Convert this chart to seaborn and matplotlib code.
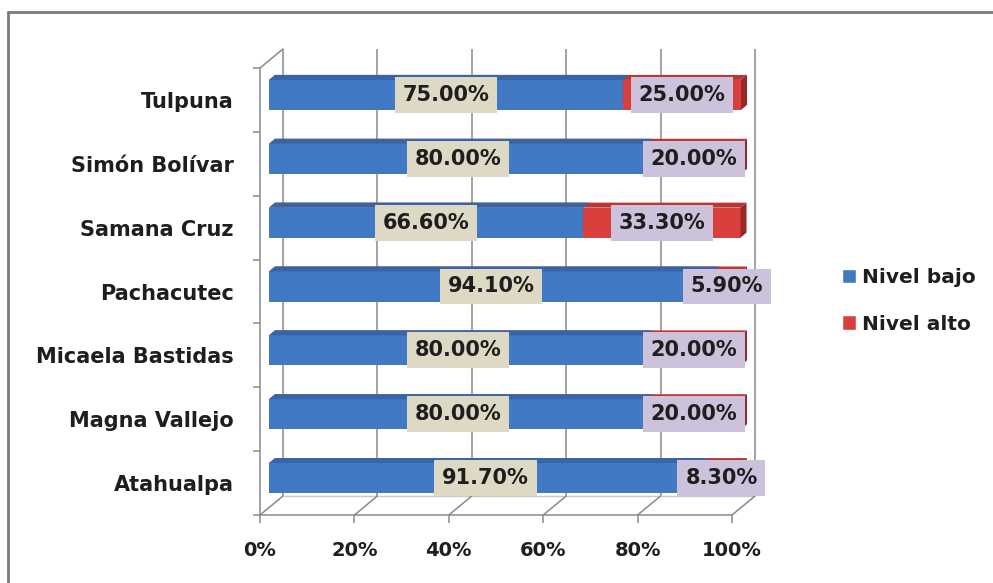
import numpy as np
import pandas as pd
import seaborn as sns
import matplotlib
matplotlib.use("Agg")
import matplotlib.pyplot as plt
from matplotlib.transforms import ScaledTranslation, IdentityTransform
from matplotlib.patches import Polygon, Patch
from matplotlib.lines import Line2D

# ---- data ----
categories = ["Tulpuna", "Simón Bolívar", "Samana Cruz", "Pachacutec",
              "Micaela Bastidas", "Magna Vallejo", "Atahualpa"]
nivel_bajo = [75.00, 80.00, 66.60, 94.10, 80.00, 80.00, 91.70]
nivel_alto = [25.00, 20.00, 33.30, 5.90, 20.00, 20.00, 8.30]
series_names = ["Nivel bajo", "Nivel alto"]
x_ticks = [0, 20, 40, 60, 80, 100]
x_tick_labels = ["0%", "20%", "40%", "60%", "80%", "100%"]

# ---- style ----
BLUE = "#4179C4"
BLUE_TOP = "#3566A8"
RED = "#D9403D"
RED_TOP = "#B93836"
RED_SIDE = "#962828"
BEIGE = "#DDD9C4"
LAVENDER = "#CDC2DC"
GRID = "#8A8A8A"
TXT = "#1E1E1E"

sns.set_theme(style="white")
plt.rcParams["font.family"] = ["DejaVu Sans"]
plt.rcParams["font.weight"] = "bold"
plt.rcParams["text.color"] = TXT

W, H = 993, 583
fig = plt.figure(figsize=(W / 100, H / 100), dpi=100)
ax = fig.add_axes([260 / W, (H - 515) / H, 472 / W, 447 / H])

df = pd.DataFrame({"Institución": categories,
                   "Nivel bajo": nivel_bajo,
                   "Nivel alto": nivel_alto})
df["total"] = df["Nivel bajo"] + df["Nivel alto"]

sns.barplot(data=df, y="Institución", x="total", order=categories,
            color=RED, saturation=1, width=0.47, linewidth=0, ax=ax)
n_red = len(ax.patches)
sns.barplot(data=df, y="Institución", x="Nivel bajo", order=categories,
            color=BLUE, saturation=1, width=0.47, linewidth=0, ax=ax)

ax.set_xlim(0, 100)
ax.set_ylim(6.5, -0.5)
ax.set_xlabel("")
ax.set_ylabel("")


def off(dx, dy):
    return ScaledTranslation(dx / fig.dpi, dy / fig.dpi, fig.dpi_scale_trans)


bar_off = off(9, 5)
back_off = off(23, 19)
T_bar = ax.transData + bar_off
T_back = ax.transData + back_off

# 3D bars
DX, DY = 6, 5
patches = list(ax.patches)
for i, p in enumerate(patches):
    is_red = i < n_red
    p.set_transform(T_bar)
    p.set_clip_on(False)
    p.set_zorder(2 if is_red else 3)
    x, y, w, h = p.get_x(), p.get_y(), p.get_width(), p.get_height()
    tl = T_bar.transform((x, y))
    tr = T_bar.transform((x + w, y))
    br = T_bar.transform((x + w, y + h))
    d = np.array([DX, DY])
    top = Polygon([tl, tr, tr + d, tl + d], closed=True,
                  facecolor=RED_TOP if is_red else BLUE_TOP, edgecolor="none",
                  transform=IdentityTransform(), clip_on=False,
                  zorder=2.1 if is_red else 3.1)
    ax.add_patch(top)
    if is_red:
        side = Polygon([tr, br, br + d, tr + d], closed=True,
                       facecolor=RED_SIDE, edgecolor="none",
                       transform=IdentityTransform(), clip_on=False, zorder=2.1)
        ax.add_patch(side)

# back wall gridlines & floor
ax.vlines(x_ticks, -0.5, 6.5, colors=GRID, linewidth=1.1,
          transform=T_back, zorder=0.5, clip_on=False)
ax.hlines(6.5, 0, 100, colors="#C8C8C8", linewidth=1.0,
          transform=T_back, zorder=0.5, clip_on=False)
# depth diagonals
for xv in x_ticks:
    a = ax.transData.transform((xv, 6.5))
    b = T_back.transform((xv, 6.5))
    ax.add_line(Line2D([a[0], b[0]], [a[1], b[1]], color=GRID, lw=1.1,
                       transform=IdentityTransform(), clip_on=False, zorder=0.5))
a = ax.transData.transform((0, -0.5))
b = T_back.transform((0, -0.5))
ax.add_line(Line2D([a[0], b[0]], [a[1], b[1]], color=GRID, lw=1.1,
                   transform=IdentityTransform(), clip_on=False, zorder=0.5))

# front axes
for s in ["top", "right"]:
    ax.spines[s].set_visible(False)
for s in ["left", "bottom"]:
    ax.spines[s].set_color(GRID)
    ax.spines[s].set_linewidth(1.1)

ax.set_xticks(x_ticks)
ax.set_xticklabels(x_tick_labels)
ax.set_yticks(range(len(categories)))
ax.set_yticklabels(categories)
ax.set_yticks(np.arange(-0.5, len(categories), 1.0), minor=True)
ax.tick_params(axis="y", which="major", length=0, pad=19, labelsize=15,
               labelcolor=TXT)
ax.tick_params(axis="y", which="minor", length=5, width=1.1, color=GRID,
               direction="out", left=True)
ax.tick_params(axis="x", which="major", length=6, width=1.1, color=GRID,
               direction="out", pad=13, labelsize=14, labelcolor=TXT,
               bottom=True)
for lab in ax.get_xticklabels() + ax.get_yticklabels():
    lab.set_fontweight("bold")

# data labels
for i in range(len(categories)):
    b, a_ = nivel_bajo[i], nivel_alto[i]
    ax.text(b / 2, i, f"{b:.2f}%", transform=T_bar, ha="center", va="center",
            fontsize=15, fontweight="bold", color=TXT, zorder=5, clip_on=False,
            bbox=dict(boxstyle="square,pad=0.38", fc=BEIGE, ec="none"))
    ax.text(b + a_ / 2, i, f"{a_:.2f}%", transform=T_bar, ha="center",
            va="center", fontsize=15, fontweight="bold", color=TXT, zorder=5,
            clip_on=False,
            bbox=dict(boxstyle="square,pad=0.38", fc=LAVENDER, ec="none"))

# legend
handles = [Patch(facecolor=BLUE), Patch(facecolor=RED)]
fig.legend(handles, series_names, loc="center left",
           bbox_to_anchor=(842 / W, 1 - 301 / H), frameon=False,
           handlelength=0.7, handleheight=0.7, handletextpad=0.3,
           labelspacing=1.35, borderpad=0, borderaxespad=0,
           prop=dict(weight="bold", size=14.5))

# outer frame
fig.add_artist(Line2D([8 / W, 1], [1 - 12 / H, 1 - 12 / H],
                      transform=fig.transFigure, color="#7A7A7A", lw=2))
fig.add_artist(Line2D([8 / W, 8 / W], [0, 1 - 12 / H],
                      transform=fig.transFigure, color="#7A7A7A", lw=2))

fig.savefig("out.png", dpi=100)
